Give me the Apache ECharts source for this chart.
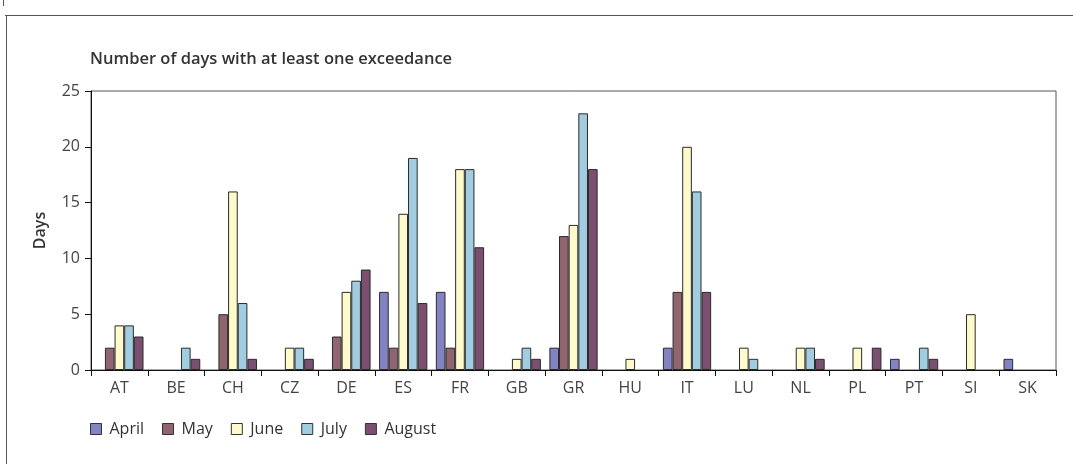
<!DOCTYPE html>
<html>
<head>
<meta charset="utf-8">
<script src="https://cdn.jsdelivr.net/npm/echarts@6/dist/echarts.min.js"></script>
<style>
  html, body { margin: 0; padding: 0; background: #fff; }
  #chart { width: 1073px; height: 464px; }
</style>
</head>
<body>
<div id="chart"></div>
<script>
// Countries along the category axis
const countries = ['AT', 'BE', 'CH', 'CZ', 'DE', 'ES', 'FR', 'GB', 'GR', 'HU', 'IT', 'LU', 'NL', 'PL', 'PT', 'SI', 'SK'];

// Days with at least one exceedance, per month
const april  = [0, 0, 0, 0, 0, 7, 7, 0, 2, 0, 2, 0, 0, 0, 1, 0, 1];
const may    = [2, 0, 5, 0, 3, 2, 2, 0, 12, 0, 7, 0, 0, 0, 0, 0, 0];
const june   = [4, 0, 16, 2, 7, 14, 18, 1, 13, 1, 20, 2, 2, 2, 0, 5, 0];
const july   = [4, 2, 6, 2, 8, 19, 18, 2, 23, 0, 16, 1, 2, 0, 2, 0, 0];
const august = [3, 1, 1, 1, 9, 6, 11, 1, 18, 0, 7, 0, 1, 2, 1, 0, 0];

const monthNames = ['April', 'May', 'June', 'July', 'August'];
const monthValues = [april, may, june, july, august];
const monthColors = ['#8383c3', '#916570', '#fffacc', '#a2cde0', '#7b4f6f'];

const yTicks = [0, 5, 10, 15, 20, 25];

const font = 'Open Sans';

const chart = echarts.init(document.getElementById('chart'), null, { renderer: 'canvas' });

const series = monthNames.map((name, i) => ({
  name: name,
  type: 'bar',
  // empty months leave no mark
  data: monthValues[i].map(v => (v === 0 ? '-' : v)),
  barGap: '0%',
  barCategoryGap: '15%',
  itemStyle: { color: monthColors[i], borderColor: '#2a2a2a', borderWidth: 1 },
  emphasis: { disabled: true }
}));

chart.setOption({
  animation: false,
  backgroundColor: '#fff',
  title: {
    text: 'Number of days with at least one exceedance',
    left: 90,
    top: 51,
    padding: 0,
    textStyle: { fontFamily: font, fontSize: 16.5, fontWeight: 600, color: '#333' }
  },
  legend: {
    left: 90,
    top: 421,
    padding: 0,
    itemWidth: 11,
    itemHeight: 11,
    itemGap: 18,
    icon: 'rect',
    textStyle: { fontFamily: font, fontSize: 16, color: '#333', padding: [0, 0, 0, 3] },
    data: monthNames.map((n, i) => ({
      name: n,
      itemStyle: { color: monthColors[i], borderColor: '#333', borderWidth: 1 }
    }))
  },
  grid: {
    left: 91,
    top: 91,
    width: 965,
    height: 279,
    show: true,
    borderColor: '#555',
    borderWidth: 1,
    backgroundColor: '#fff'
  },
  xAxis: {
    type: 'category',
    data: countries,
    axisLine: { lineStyle: { color: '#111', width: 1 } },
    axisTick: { show: true, length: 6, inside: false, lineStyle: { color: '#111' } },
    axisLabel: { fontFamily: font, fontSize: 16, color: '#444', margin: 10 }
  },
  yAxis: {
    type: 'value',
    min: yTicks[0],
    max: yTicks[yTicks.length - 1],
    interval: 5,
    name: 'Days',
    nameLocation: 'middle',
    nameGap: 43,
    nameRotate: 90,
    nameTextStyle: { fontFamily: font, fontSize: 16, fontWeight: 600, color: '#333' },
    axisLine: { show: true, lineStyle: { color: '#111', width: 1 } },
    axisTick: { show: true, length: 6, lineStyle: { color: '#111' } },
    splitLine: { show: false },
    axisLabel: { fontFamily: font, fontSize: 16, color: '#444', margin: 11 }
  },
  graphic: [
    // frame around the figure
    { type: 'line', shape: { x1: 6.5, y1: 15, x2: 6.5, y2: 464 }, style: { stroke: '#555', lineWidth: 1 } },
    { type: 'line', shape: { x1: 5, y1: 15.5, x2: 1073, y2: 15.5 }, style: { stroke: '#555', lineWidth: 1 } },
    { type: 'line', shape: { x1: 3.5, y1: 0, x2: 3.5, y2: 6 }, style: { stroke: '#555', lineWidth: 1 } }
  ],
  series: series
});
</script>
</body>
</html>
